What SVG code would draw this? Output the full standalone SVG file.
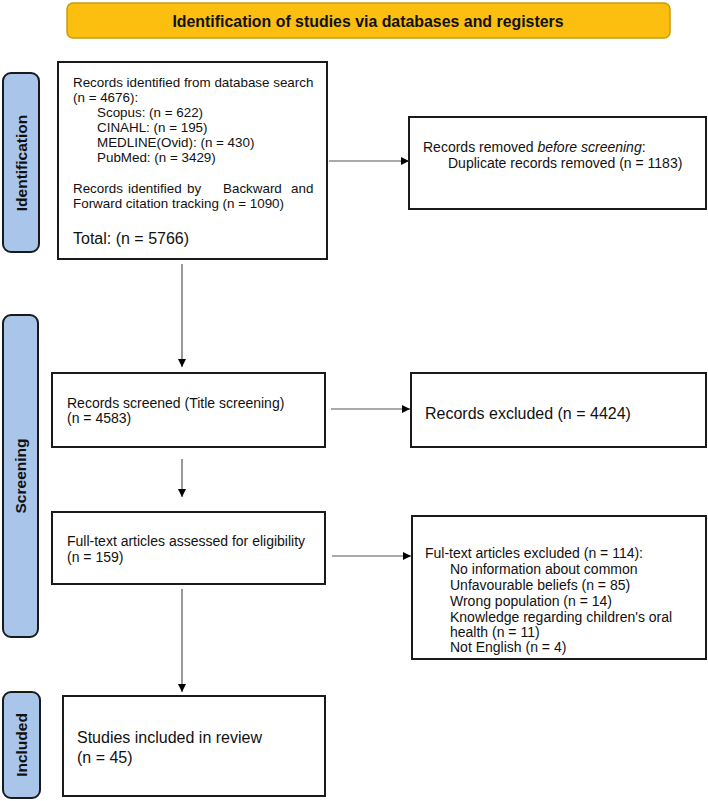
<svg xmlns="http://www.w3.org/2000/svg" width="708" height="801" viewBox="0 0 708 801">
<defs>
<style>
text{font-family:"Liberation Sans",Arial,sans-serif;fill:#111}
.box{fill:#fff;stroke:#1a1a1a;stroke-width:2}
.side{fill:#a9c6ea;stroke:#1a1a1a;stroke-width:2}
.lbl{font-weight:bold;font-size:15.5px;text-anchor:middle;dominant-baseline:central}
.t13{font-size:13.4px}
.t14{font-size:14px}
.t16{font-size:16px}
.conn{stroke:#555;stroke-width:1.2;fill:none;marker-end:url(#ah)}
</style>
<marker id="ah" viewBox="0 0 10 10" refX="10" refY="5" markerWidth="9" markerHeight="8" markerUnits="userSpaceOnUse" orient="auto">
<path d="M0,0 L10,5 L0,10 Z" fill="#000"/>
</marker>
</defs>
<g id="header">
<rect x="67" y="3" width="603" height="35" rx="6" fill="#fdbf0f" stroke="#c79c10" stroke-width="1.5"/>
<text x="368" y="26.5" font-size="15.9" font-weight="bold" text-anchor="middle">Identification of studies via databases and registers</text>
</g>
<g id="label-identification">
<rect class="side" x="3" y="73" width="36" height="179" rx="8"/>
<text class="lbl" transform="translate(21,163) rotate(-90)">Identification</text>
</g>
<g id="label-screening">
<rect class="side" x="3" y="315" width="35" height="322" rx="8"/>
<text class="lbl" transform="translate(20.5,476) rotate(-90)">Screening</text>
</g>
<g id="label-included">
<rect class="side" x="3" y="692" width="37" height="106" rx="8"/>
<text class="lbl" transform="translate(21.5,745) rotate(-90)">Included</text>
</g>
<g id="records-identified">
<rect class="box" x="58" y="62" width="269" height="197"/>
<text class="t13" x="73" y="87">Records identified from database search</text>
<text class="t13" x="73" y="102">(n = 4676):</text>
<text class="t13" x="97" y="117">Scopus: (n = 622)</text>
<text class="t13" x="97" y="132">CINAHL: (n = 195)</text>
<text class="t13" x="97" y="147">MEDLINE(Ovid): (n = 430)</text>
<text class="t13" x="97" y="162">PubMed: (n = 3429)</text>
<text class="t13" y="193"><tspan x="73">Records</tspan><tspan x="128">identified</tspan><tspan x="187">by</tspan><tspan x="223">Backward</tspan><tspan x="291">and</tspan></text>
<text class="t13" x="73" y="208">Forward citation tracking (n = 1090)</text>
<text class="t16" x="73" y="244">Total: (n = 5766)</text>
</g>
<g id="records-removed">
<rect class="box" x="409" y="117" width="297" height="92"/>
<text class="t14" x="423" y="152">Records removed <tspan font-style="italic">before screening</tspan>:</text>
<text class="t14" x="448" y="168">Duplicate records removed (n = 1183)</text>
</g>
<g id="records-screened">
<rect class="box" x="52" y="373" width="273" height="74"/>
<text class="t14" x="67" y="408">Records screened (Title screening)</text>
<text class="t14" x="67" y="423">(n = 4583)</text>
</g>
<g id="records-excluded">
<rect class="box" x="411" y="373" width="295" height="74"/>
<text class="t16" x="425" y="419">Records excluded (n = 4424)</text>
</g>
<g id="fulltext-assessed">
<rect class="box" x="52" y="512" width="273" height="72"/>
<text class="t14" x="67" y="546">Full-text articles assessed for eligibility</text>
<text class="t14" x="67" y="562">(n = 159)</text>
</g>
<g id="fulltext-excluded">
<rect class="box" x="412" y="516" width="294" height="143"/>
<text class="t14" x="425" y="558">Ful-text articles excluded (n = 114):</text>
<text class="t14" x="450" y="574">No information about common</text>
<text class="t14" x="450" y="590">Unfavourable beliefs (n = 85)</text>
<text class="t14" x="450" y="606">Wrong population (n = 14)</text>
<text class="t14" x="450" y="622">Knowledge regarding children's oral</text>
<text class="t14" x="450" y="637">health (n = 11)</text>
<text class="t14" x="450" y="652">Not English (n = 4)</text>
</g>
<g id="studies-included">
<rect class="box" x="63" y="696" width="262" height="100"/>
<text class="t16" x="77" y="743">Studies included in review</text>
<text class="t16" x="77" y="763">(n = 45)</text>
</g>
<g id="connectors">
<line class="conn" x1="329" y1="161" x2="409" y2="161"/>
<line class="conn" x1="182" y1="264" x2="182" y2="367"/>
<line class="conn" x1="331" y1="409" x2="410" y2="409"/>
<line class="conn" x1="182" y1="459" x2="182" y2="497"/>
<line class="conn" x1="332" y1="556" x2="411" y2="556"/>
<line class="conn" x1="182" y1="589" x2="182" y2="692"/>
</g>
</svg>
